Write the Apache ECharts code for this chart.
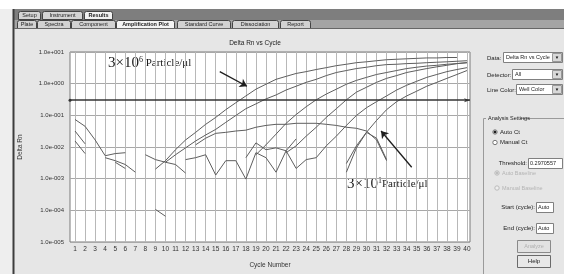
<!DOCTYPE html>
<html><head><meta charset="utf-8">
<script src="https://cdn.jsdelivr.net/npm/echarts@6/dist/echarts.min.js"></script>
<style>html,body{margin:0;padding:0;background:#e6e6e6}#c{width:564px;height:274px}</style>
</head><body><div id="c"></div>
<script>
// ---------- data ----------
const cycles = [1,2,3,4,5,6,7,8,9,10,11,12,13,14,15,16,17,18,19,20,21,22,23,24,25,26,27,28,29,30,31,32,33,34,35,36,37,38,39,40];
const yTickExps   = [-5,-4,-3,-2,-1,0,1];
const yTickLabels = ['1.0e-005','1.0e-004','1.0e-003','1.0e-002','1.0e-001','1.0e+000','1.0e+001'];
const threshold = 0.2970557;

// each curve: first cycle, then Delta Rn values for consecutive cycles
const curveAStart = 9;
const curveA = [0.002,0.0037,0.0082,0.0167,0.029,0.052,0.086,0.151,0.25,0.41,0.67,0.96,1.37,1.7,2.1,2.4,2.8,3.2,3.7,4.1,4.6,4.9,5.3,5.7,5.9,6.1,6.3,6.5,6.5,6.7,6.7];
const curveBStart = 10;
const curveB = [0.0033,0.0057,0.0094,0.0155,0.024,0.036,0.06,0.099,0.162,0.23,0.33,0.44,0.63,0.83,1.1,1.37,1.8,2.25,2.6,3.0,3.3,3.7,4.0,4.1,4.3,4.4,4.6,4.75,4.9,5.1,5.3];
const curveCStart = 13;
const curveC = [0.0117,0.019,0.027,0.029,0.032,0.034,0.042,0.048,0.052,0.052,0.056,0.056,0.056,0.052,0.048,0.042,0.039,0.032,0.0167,0.0037];
const curveDStart = 19;
const curveD = [0.0057,0.0117,0.0255,0.056,0.106,0.187,0.31,0.47,0.67,0.96,1.27,1.58,1.95,2.25,2.6,3.0,3.3,3.6,3.8,4.1,4.3,4.6];
const curveEStart = 22;
const curveE = [0.0066,0.0109,0.022,0.042,0.086,0.162,0.31,0.54,0.77,1.1,1.47,1.8,2.25,2.6,3.0,3.4,3.8,4.3,4.6];
const curveFStart = 12;
const curveF = [0.004,0.0046,0.0057,0.0013,0.0037,0.0037,0.00097,0.0066,0.0046,0.0016,0.0076,0.0021,0.004,0.0046,0.0109,0.022,0.048,0.099,0.174,0.27,0.41,0.63,0.89,1.19,1.58,1.95,2.4,2.8,3.2];
const curveGStart = 28;
const curveG = [0.003,0.0109,0.029,0.069,0.151,0.27,0.41,0.58,0.83,1.1,1.47,1.95,2.6];
const curveHStart = 28;
const curveH = [0.0016,0.0094,0.029,0.019,0.004];
// short noisy baseline fragments
const noise1Start = 1;  const noise1 = [0.074,0.045,0.0167,0.0053,0.0062,0.0066];
const noise2Start = 1;  const noise2 = [0.032,0.0126];
const noise3Start = 4;  const noise3 = [0.0046,0.0037,0.0028,0.0016];
const noise4Start = 1;  const noise4 = [0.0155,0.0062];
const noise5Start = 5;  const noise5 = [0.0033,0.0021];
const noise6Start = 8;  const noise6 = [0.0057,0.004,0.0033,0.0028,0.0015];
const noise7Start = 9;  const noise7 = [0.000107,0.000065];
const noise8Start = 18; const noise8 = [0.0046,0.0135,0.0082,0.0094,0.0076,0.018];

// annotation arrows (data coordinates: cycle, Delta Rn)
const arrowHigh = [[15.4, 2.4], [18.1, 0.83]];
const arrowLow  = [[34.5, 0.0023], [31.45, 0.032]];

// ---------- build ----------
const curves = [
  [curveAStart, curveA],[curveBStart, curveB],[curveCStart, curveC],[curveDStart, curveD],
  [curveEStart, curveE],[curveFStart, curveF],[curveGStart, curveG],[curveHStart, curveH],
  [noise1Start, noise1],[noise2Start, noise2],[noise3Start, noise3],[noise4Start, noise4],
  [noise5Start, noise5],[noise6Start, noise6],[noise7Start, noise7],[noise8Start, noise8]
];
const series = curves.map(([start, vals], k) => ({
  type: 'line',
  data: vals.map((v, i) => [cycles[start - 1 + i], v]),
  symbol: 'none', silent: true, animation: false,
  lineStyle: { color: '#5e5e5e', width: 1 },
  z: 3
}));
series[0].markLine = {
  silent: true, animation: false, symbol: ['circle', 'arrow'], symbolSize: [3, 6],
  label: { show: false },
  lineStyle: { color: '#333', width: 1.5, type: 'solid' },
  data: [{ yAxis: threshold }]
};
series[1].markLine = {
  silent: true, animation: false, symbol: ['none', 'arrow'], symbolSize: 7,
  label: { show: false },
  lineStyle: { color: '#1e1e1e', width: 1.3, type: 'solid' },
  data: [
    [{ coord: arrowHigh[0] }, { coord: arrowHigh[1] }],
    [{ coord: arrowLow[0] }, { coord: arrowLow[1] }]
  ]
};

// ---------- UI chrome ----------
const SANS = '"Liberation Sans", Arial, sans-serif';
const ui = [];
function rect(x, y, w, h, fill, stroke, r) {
  ui.push({ type: 'rect', silent: true, shape: { x, y, width: w, height: h, r: r || 0 },
    style: { fill: fill || 'none', stroke: stroke || 'none', lineWidth: 1 } });
}
function line(x1, y1, x2, y2, stroke, w) {
  ui.push({ type: 'line', silent: true, shape: { x1, y1, x2, y2 }, style: { stroke, lineWidth: w || 1 } });
}
function text(x, y, t, o) {
  o = o || {};
  const al = o.align || 'left';
  ui.push({ type: 'text', silent: true, x, y, style: {
    text: t, fill: o.color || '#222',
    font: (o.bold ? 'bold ' : '') + (o.size || 6) + 'px ' + (o.family || SANS),
    align: al, textAlign: al, verticalAlign: 'middle', textVerticalAlign: 'middle',
    rich: o.rich
  }});
}
function circle(cx, cy, r, fill, stroke) {
  ui.push({ type: 'circle', silent: true, shape: { cx, cy, r }, style: { fill, stroke, lineWidth: 1 } });
}

rect(0, 0, 564, 9, '#ffffff');
rect(0, 9, 13, 265, '#eeeeee');
rect(14, 9, 550, 11, '#7e7e7e');
rect(14, 20, 550, 8, '#a4a4a4');
line(13.5, 9, 13.5, 274, '#3c3c3c', 2);
// first tab row
[['Setup',18,22,false],['Instrument',42,40,false],['Results',84,28,true]].forEach(([t,x,w,sel]) => {
  rect(x + 0.5, 11.5, w, 8, sel ? '#f2f2f2' : '#d4d4d4', '#444', [2,2,0,0]);
  text(x + w / 2 + 0.5, 15.5, t, { align: 'center', size: 5.5, bold: sel });
});
// second tab row
[['Plate',17,19,false],['Spectra',37,33,false],['Component',71,44,false],['Amplification Plot',116,58,true],
 ['Standard Curve',177,53,false],['Dissociation',232,46,false],['Report',280,30,false]].forEach(([t,x,w,sel]) => {
  rect(x + 0.5, 20.5, w, 8, sel ? '#f4f4f4' : '#d2d2d2', '#444', [2,2,0,0]);
  text(x + w / 2 + 0.5, 24.5, t, { align: 'center', size: 5.5, bold: sel });
});
line(14, 28.5, 564, 28.5, '#666', 1);

text(255, 43, 'Delta Rn vs Cycle', { align: 'center', size: 6.5 });

// right control panel
function combo(x, y, w, t) {
  rect(x + 0.5, y + 0.5, w, 10, '#ffffff', '#808080');
  text(x + 3, y + 5.5, t, { size: 5.5 });
  rect(x + w - 9.5, y + 1.5, 9, 8, '#d8d8d8', '#999');
  text(x + w - 5, y + 5.8, '\u25BC', { align: 'center', size: 4.5, color: '#111' });
}
text(487, 58, 'Data:', { size: 6 });        combo(503, 52, 59, 'Delta Rn vs Cycle');
text(487, 75, 'Detector:', { size: 6 });    combo(512, 69, 50, 'All');
text(487, 90, 'Line Color:', { size: 6 });  combo(516, 84, 46, 'Well Color');

rect(483.5, 118.5, 90, 160, 'none', '#9a9a9a');
rect(486, 114, 34, 8, '#e6e6e6');
text(488, 118, 'Analysis Settings', { size: 5.5 });
circle(495, 132, 2.2, '#fff', '#777'); circle(495, 132, 1, '#111', '#111');
text(500, 132, 'Auto Ct', { size: 6 });
circle(495, 142.5, 2.2, '#fff', '#777');
text(500, 142.5, 'Manual Ct', { size: 6 });
text(527, 163, 'Threshold:', { size: 6, align: 'right' });
rect(528.5, 158.5, 34, 10, '#ffffff', '#808080');
text(530, 163.5, '0.2970557', { size: 5.5 });
circle(497, 173, 2.2, '#eee', '#bbb'); circle(497, 173, 1, '#bbb', '#bbb');
text(502, 173.5, 'Auto Baseline', { size: 5.5, color: '#b4b4b4' });
circle(497, 188, 2.2, '#eee', '#bbb');
text(502, 188.5, 'Manual Baseline', { size: 5.5, color: '#b4b4b4' });
text(535, 207, 'Start (cycle):', { size: 6, align: 'right' });
rect(536.5, 202.5, 17, 10, '#ffffff', '#808080'); text(538, 207.5, 'Auto', { size: 5.5 });
text(535, 228, 'End (cycle):', { size: 6, align: 'right' });
rect(536.5, 223.5, 17, 10, '#ffffff', '#808080'); text(538, 228.5, 'Auto', { size: 5.5 });
rect(517.5, 240.5, 33, 12, '#e2e2e2', '#8a8a8a');
text(534, 246.5, 'Analyze', { size: 5.5, align: 'center', color: '#b0b0b0' });
rect(517.5, 255.5, 33, 12, '#e8e8e8', '#6a6a6a');
text(534, 261.5, 'Help', { size: 6, align: 'center' });

// annotations
const SERIF = '"Liberation Serif", "DejaVu Serif", serif';
const annRich = {
  a: { fontFamily: SERIF, fontSize: 15, fill: '#1a1a1a', color: '#1a1a1a' },
  s: { fontFamily: SERIF, fontSize: 8, fill: '#1a1a1a', color: '#1a1a1a', verticalAlign: 'top' },
  b: { fontFamily: SERIF, fontSize: 11, fill: '#1a1a1a', color: '#1a1a1a' }
};
text(108, 63, '{a|3\u00D710}{s|6}{b| Particle/\u03BCl}', { rich: annRich, family: SERIF, size: 11 });
text(347, 184, '{a|3\u00D710}{s|1}{b|Particle/\u03BCl}', { rich: annRich, family: SERIF, size: 11 });

// ---------- chart ----------
const chart = echarts.init(document.getElementById('c'));
chart.setOption({
  backgroundColor: '#e6e6e6',
  animation: false,
  grid: { left: 70, right: 94, top: 52, bottom: 28, show: true, backgroundColor: '#ffffff', borderColor: '#7a7a7a', borderWidth: 1 },
  xAxis: {
    type: 'value', min: 0.5, max: 40.3, interval: 0.5,
    axisLine: { show: false }, axisTick: { show: false },
    axisLabel: { fontSize: 6.5, color: '#333', margin: 4, fontFamily: SANS,
      formatter: v => (Math.abs(v - Math.round(v)) < 1e-6 && cycles.indexOf(Math.round(v)) >= 0) ? String(Math.round(v)) : '' },
    splitLine: { show: true, lineStyle: { color: ['rgba(0,0,0,0)', '#b8b8b8'], width: 1 } },
    name: 'Cycle Number', nameLocation: 'middle', nameGap: 20,
    nameTextStyle: { fontSize: 6.5, color: '#333', fontFamily: SANS }
  },
  yAxis: {
    type: 'log', logBase: 10, min: 1e-5, max: 10,
    axisLine: { show: false }, axisTick: { show: false },
    axisLabel: { fontSize: 6, color: '#333', margin: 6, fontFamily: SANS,
      formatter: v => { const k = yTickExps.indexOf(Math.round(Math.log10(v))); return k >= 0 ? yTickLabels[k] : ''; } },
    splitLine: { show: true, lineStyle: { color: '#a8a8a8', width: 1 } },
    name: 'Delta Rn', nameLocation: 'middle', nameGap: 46,
    nameTextStyle: { fontSize: 6.5, color: '#333', fontFamily: SANS }
  },
  series: series,
  graphic: { elements: ui }
});
</script>
</body></html>
